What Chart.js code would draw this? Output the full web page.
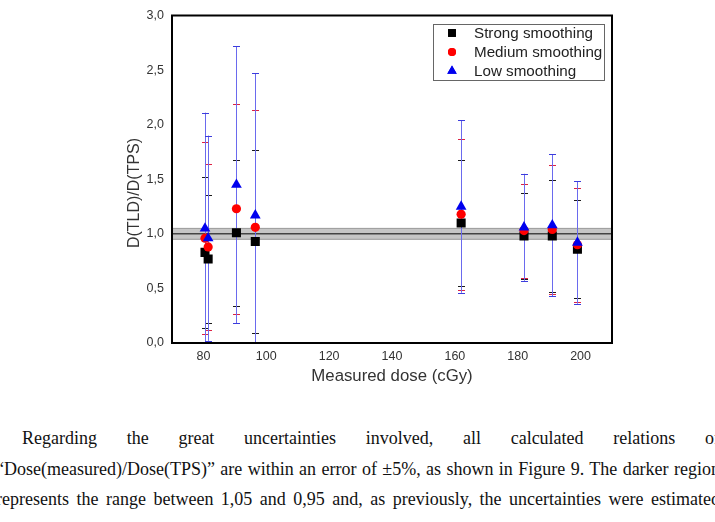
<!DOCTYPE html>
<html>
<head>
<meta charset="utf-8">
<script src="https://cdn.jsdelivr.net/npm/chart.js@4.4.1/dist/chart.umd.min.js"></script>
<style>
  html, body { margin: 0; padding: 0; background: #fff; width: 715px; height: 522px; overflow: hidden; position: relative; }
  #wrap { position: absolute; left: 0; top: 0; width: 715px; height: 400px; }
  .para { position: absolute; left: -4px; top: 423px; width: 724px;
          font-family: 'Liberation Serif', 'Times New Roman', serif; font-size: 18px; color: #111; }
  .para div { height: 30.5px; line-height: 30.5px; text-align: justify; text-align-last: justify; }
  .para .first { padding-left: 26px; }
</style>
</head>
<body>
<div id="wrap"><canvas id="chart" width="715" height="400"></canvas></div>
<div class="para">
  <div class="first">Regarding the great uncertainties involved, all calculated relations of</div>
  <div>“Dose(measured)/Dose(TPS)” are within an error of ±5%, as shown in Figure 9. The darker region</div>
  <div>represents the range between 1,05 and 0,95 and, as previously, the uncertainties were estimated</div>
</div>
<script>
const doses     = [80.5, 81.5, 90.5, 96.5, 162, 182, 191, 199];
const strong    = [0.83, 0.77, 1.01, 0.93, 1.10, 0.98, 0.98, 0.86];
const medium    = [0.96, 0.88, 1.23, 1.06, 1.18, 1.03, 1.04, 0.90];
const low       = [1.05, 0.96, 1.45, 1.17, 1.25, 1.06, 1.08, 0.92];
const strongErr = [0.69, 0.59, 0.67, 0.84, 0.58, 0.39, 0.51, 0.45];
const mediumErr = [0.88, 0.76, 0.96, 1.07, 0.69, 0.43, 0.59, 0.52];
const lowErr    = [1.06, 0.94, 1.27, 1.30, 0.79, 0.49, 0.65, 0.56];
const seriesNames = ['Strong smoothing', 'Medium smoothing', 'Low smoothing'];
const yTicks = [0, 0.5, 1, 1.5, 2, 2.5, 3];
const xTicks = [80, 100, 120, 140, 160, 180, 200];
const band = [0.95, 1.05];
const refLine = 1.0;
const yTitle = 'D(TLD)/D(TPS)';

const SANS = "'Liberation Sans', Arial, sans-serif";

const series = [
  { name: seriesNames[0], y: strong, err: strongErr, style: 'rect',     radius: 6.4, color: '#000000', cap: '#1a1a1a', legendR: 5.5 },
  { name: seriesNames[1], y: medium, err: mediumErr, style: 'circle',   radius: 4.6, color: '#ff0000', cap: '#dd2244', legendR: 4 },
  { name: seriesNames[2], y: low,    err: lowErr,    style: 'triangle', radius: 6.2, color: '#0000ee', cap: '#3c3cdd', legendR: 5.5 },
];

// band + error bars underneath the markers
const underlay = {
  id: 'underlay',
  beforeDatasetsDraw(chart) {
    const { ctx, chartArea: a, scales: { x, y } } = chart;
    ctx.save();
    ctx.beginPath();
    ctx.rect(a.left, a.top, a.right - a.left, a.bottom - a.top);
    ctx.clip();

    const yHi = y.getPixelForValue(band[1]);
    const yLo = y.getPixelForValue(band[0]);
    ctx.fillStyle = '#c6c6c6';
    ctx.fillRect(a.left, yHi, a.right - a.left, yLo - yHi);
    ctx.strokeStyle = '#9a9a9a';
    ctx.lineWidth = 1;
    [yHi, yLo].forEach(py => {
      ctx.beginPath(); ctx.moveTo(a.left, py); ctx.lineTo(a.right, py); ctx.stroke();
    });
    const yRef = y.getPixelForValue(refLine);
    ctx.strokeStyle = '#444';
    ctx.lineWidth = 1.5;
    ctx.beginPath(); ctx.moveTo(a.left, yRef); ctx.lineTo(a.right, yRef); ctx.stroke();

    series.forEach(s => {
      doses.forEach((d, i) => {
        const px = Math.round(x.getPixelForValue(d)) + 0.5;
        const top = y.getPixelForValue(s.y[i] + s.err[i]);
        const bot = y.getPixelForValue(s.y[i] - s.err[i]);
        ctx.strokeStyle = '#6a6aee';
        ctx.lineWidth = 1;
        ctx.beginPath(); ctx.moveTo(px, top); ctx.lineTo(px, bot); ctx.stroke();
        ctx.strokeStyle = s.cap;
        [top, bot].forEach(py => {
          const yy = Math.round(py) + 0.5;
          ctx.beginPath(); ctx.moveTo(px - 3.5, yy); ctx.lineTo(px + 3.5, yy); ctx.stroke();
        });
      });
    });
    ctx.restore();
  },
  afterDraw(chart) {
    const { ctx, chartArea: a } = chart;
    ctx.save();
    ctx.strokeStyle = '#000';
    ctx.lineWidth = 2;
    ctx.strokeRect(a.left, a.top, a.right - a.left, a.bottom - a.top);

    // y axis title, sits a bit below the plot centre in the original
    ctx.save();
    ctx.translate(135, 193);
    ctx.rotate(-Math.PI / 2);
    ctx.font = '16px ' + SANS;
    ctx.fillStyle = '#333';
    ctx.textAlign = 'center';
    ctx.textBaseline = 'middle';
    ctx.fillText(yTitle, 0, 0);
    ctx.restore();

    // legend box
    ctx.strokeStyle = '#666';
    ctx.lineWidth = 1;
    ctx.fillStyle = '#fff';
    ctx.fillRect(433.5, 24.5, 171, 56);
    ctx.strokeRect(433.5, 24.5, 171, 56);
    ctx.font = '15.2px ' + SANS;
    ctx.textBaseline = 'middle';
    series.forEach((s, i) => {
      const ly = 33 + i * 19;
      ctx.fillStyle = s.color;
      Chart.helpers.drawPoint(ctx, { pointStyle: s.style, radius: s.legendR, borderWidth: 0 }, 452, ly);
      ctx.fill();
      ctx.fillStyle = '#222';
      ctx.fillText(s.name, 474, ly + 1);
    });
    ctx.restore();
  }
};

new Chart(document.getElementById('chart'), {
  type: 'scatter',
  data: {
    datasets: series.map((s, k) => ({
      label: s.name,
      data: doses.map((d, i) => ({ x: d, y: s.y[i] })),
      pointStyle: s.style,
      pointRadius: s.radius,
      pointBackgroundColor: s.color,
      pointBorderWidth: 0,
      order: 2 - k,
    })),
  },
  options: {
    responsive: false,
    animation: false,
    layout: { padding: { left: 0, top: 14, right: 103, bottom: 0 } },
    plugins: { legend: { display: false }, tooltip: { enabled: false } },
    scales: {
      x: {
        type: 'linear',
        min: 70, max: 210,
        afterBuildTicks: sc => { sc.ticks = xTicks.map(v => ({ value: v })); },
        afterFit: sc => { sc.height = 57; },
        grid: { display: false, drawTicks: false, tickLength: 0 },
        border: { display: false },
        ticks: { color: '#333', padding: 6, font: { family: SANS, size: 12.5 } },
        title: { display: true, text: 'Measured dose (cGy)', color: '#333',
                 font: { family: SANS, size: 16.8 }, padding: { top: 0, bottom: 14 } },
      },
      y: {
        min: 0, max: 3,
        afterBuildTicks: sc => { sc.ticks = yTicks.map(v => ({ value: v })); },
        afterFit: sc => { sc.width = 172; },
        grid: { display: false, drawTicks: false, tickLength: 0 },
        border: { display: false },
        ticks: { color: '#333', padding: 8, font: { family: SANS, size: 12.5 },
                 callback: v => v.toFixed(1).replace('.', ',') },
      },
    },
  },
  plugins: [underlay],
});
</script>
</body>
</html>
